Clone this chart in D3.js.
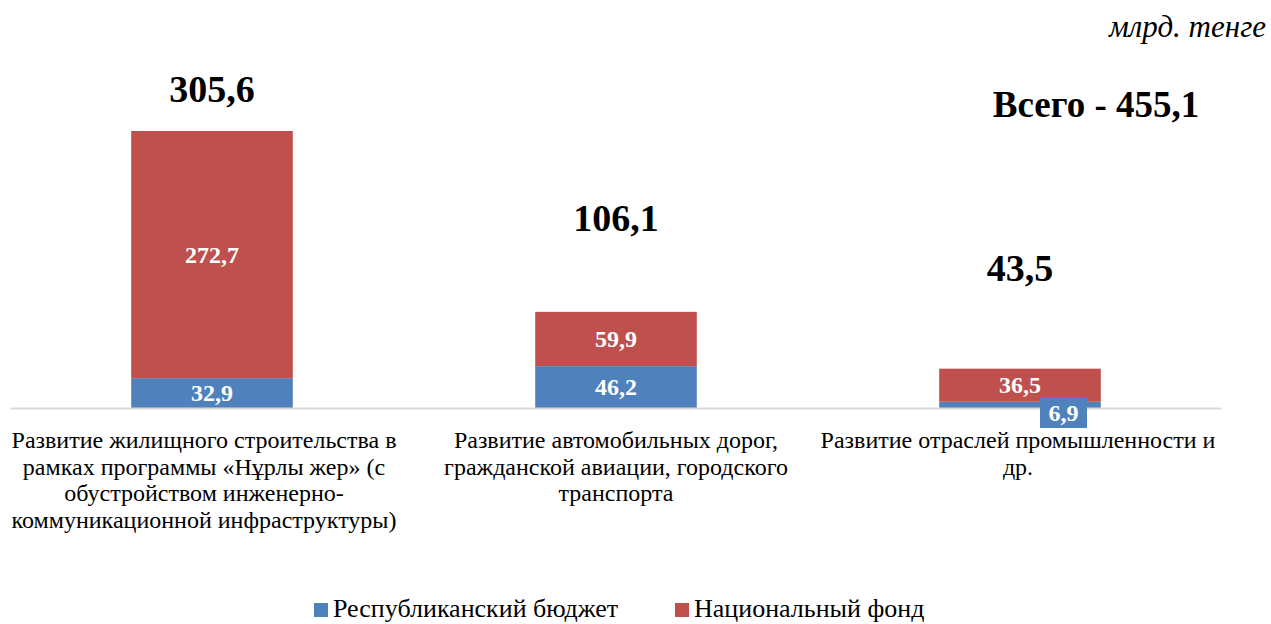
<!DOCTYPE html>
<html>
<head>
<meta charset="utf-8">
<script src="https://cdn.jsdelivr.net/npm/d3@7"></script>
<style>
  html, body { margin: 0; padding: 0; background: #fff; }
</style>
</head>
<body>
<svg id="chart" width="1271" height="624"></svg>
<script>
// Budget allocation by direction, bn tenge
const categories = [
  ["Развитие жилищного строительства в", "рамках программы «Нұрлы жер» (с", "обустройством инженерно-", "коммуникационной инфраструктуры)"],
  ["Развитие автомобильных дорог,", "гражданской авиации, городского", "транспорта"],
  ["Развитие отраслей промышленности и", "др."]
];
const republicanBudget = [32.9, 46.2, 6.9];
const nationalFund = [272.7, 59.9, 36.5];
const totals = [305.6, 106.1, 43.5];
const seriesNames = ["Республиканский бюджет", "Национальный фонд"];
const grandTotal = "Всего - 455,1";
const unitLabel = "млрд. тенге";

const colors = ["#4f81bd", "#c0504d"];
const fmt = v => d3.format(".1f")(v).replace(".", ",");
const FONT = "'Liberation Serif', 'Times New Roman', serif";

const svg = d3.select("#chart");
const baseY = 408;

const x = d3.scaleBand().domain(d3.range(categories.length)).range([10, 1222]).paddingInner(0.6).paddingOuter(0.3);
const y = d3.scaleLinear().domain([0, 305.6]).range([baseY, 131]);

const stackData = categories.map((c, i) => ({ i, rb: republicanBudget[i], nf: nationalFund[i] }));
const stacked = d3.stack().keys(["rb", "nf"])(stackData);

const g = svg.append("g");
stacked.forEach((layer, li) => {
  g.selectAll(null).data(layer).enter().append("rect")
    .attr("x", d => x(d.data.i))
    .attr("width", x.bandwidth())
    .attr("y", d => y(d[1]))
    .attr("height", d => y(d[0]) - y(d[1]))
    .attr("fill", colors[li]);
});

// horizontal category axis line
svg.append("line")
  .attr("x1", 10).attr("x2", 1222)
  .attr("y1", baseY + 0.5).attr("y2", baseY + 0.5)
  .attr("stroke", "#d9d9d9").attr("stroke-width", 2);

function txt(xp, yp, s, size, opts = {}) {
  return svg.append("text")
    .attr("x", xp).attr("y", yp)
    .attr("text-anchor", opts.anchor || "middle")
    .attr("fill", opts.fill || "#000")
    .attr("font-family", FONT)
    .attr("font-size", size)
    .attr("font-weight", opts.bold ? "bold" : "normal")
    .attr("font-style", opts.italic ? "italic" : "normal")
    .text(s);
}

// segment labels
stacked.forEach((layer, li) => {
  layer.forEach(d => {
    const cx = x(d.data.i) + x.bandwidth() / 2;
    const val = d[1] - d[0];
    const cy = (y(d[0]) + y(d[1])) / 2;
    if (li === 0 && y(d[0]) - y(d[1]) < 15) {
      // small segment: label in a boxed callout below the bar
      const bx = cx + 20, by = 397, bw = 47, bh = 31;
      svg.append("rect").attr("x", bx).attr("y", by).attr("width", bw).attr("height", bh).attr("fill", colors[0]);
      txt(bx + bw / 2, by + bh / 2 + 8, fmt(val), 24, { bold: true, fill: "#fff" });
    } else {
      txt(cx, cy + 8, fmt(val), 24, { bold: true, fill: "#fff" });
    }
  });
});

// totals above bars
const totalLift = [29, 81, 88];
totals.forEach((t, i) => {
  txt(x(i) + x.bandwidth() / 2, y(t) - totalLift[i], fmt(t), 38, { bold: true });
});

txt(1096, 117, grandTotal, 37, { bold: true });
txt(1266, 37, unitLabel, 31, { anchor: "end", italic: true });

// category labels
const labelShift = [-8, 0, -2];
categories.forEach((lines, i) => {
  const cx = x(i) + x.bandwidth() / 2 + labelShift[i];
  const t = txt(cx, 448, null, 24);
  lines.forEach((ln, k) => {
    t.append("tspan").attr("x", cx).attr("dy", k === 0 ? 0 : 26.7).text(ln);
  });
});

// legend
const legendItems = [{ x: 314, name: seriesNames[0], c: colors[0] }, { x: 675, name: seriesNames[1], c: colors[1] }];
legendItems.forEach(it => {
  svg.append("rect").attr("x", it.x).attr("y", 603).attr("width", 14).attr("height", 14).attr("fill", it.c);
  txt(it.x + 19, 617, it.name, 26, { anchor: "start" });
});
</script>
</body>
</html>
